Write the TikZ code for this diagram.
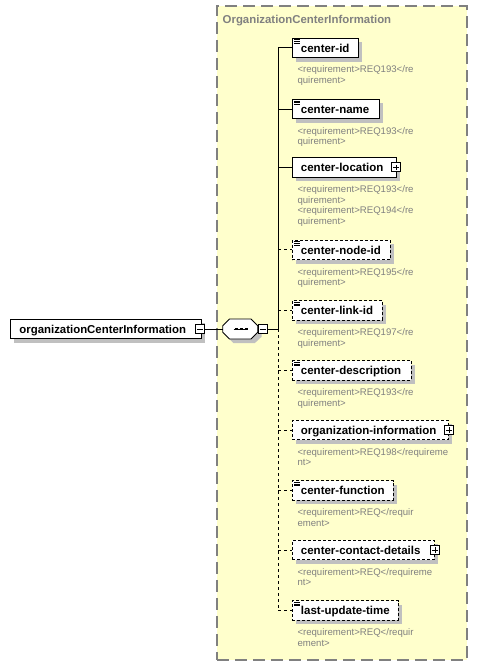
\documentclass[tikz,border=0pt]{standalone}
\usepackage{fontspec}
\setmainfont{Liberation Sans}
\definecolor{bgyel}{RGB}{255,255,204}
\definecolor{brdgray}{RGB}{128,128,128}
\definecolor{shgray}{RGB}{192,192,192}
\newcommand\nmbox[2]{\makebox[#1pt][l]{\hspace{8.5pt}#2}}
\newcommand\eqicon[1]{\foreach \dy in {2.2,3.9,5.6}{\draw[line width=0.8pt,solid] ([shift={(2,\dy)}]#1.north west) -- ++(6,0);}}
\tikzset{
 grpbox/.style={draw=brdgray, fill=bgyel, line width=1.6pt, dash pattern=on 12pt off 6pt, inner sep=0pt},
 elbox/.style={draw=black, fill=white, line width=0.9pt, minimum height=19.5pt, inner xsep=0pt, inner ysep=0pt, anchor=west, text height=9pt, text depth=0pt, font=\fontsize{11.5}{13}\selectfont\bfseries, preaction={draw=none, fill=shgray, transform canvas={shift={(4pt,-4pt)}}}},
 optbox/.style={elbox, dash pattern=on 3pt off 2pt},
 pmbox/.style={draw=black, fill=white, line width=0.8pt, minimum size=9pt, inner sep=0pt, solid},
 plusbox/.style={pmbox, path picture={\draw[line width=0.8pt] ([xshift=-2.8pt]path picture bounding box.center) -- ([xshift=2.8pt]path picture bounding box.center) ([yshift=-2.8pt]path picture bounding box.center) -- ([yshift=2.8pt]path picture bounding box.center);}},
 minusbox/.style={pmbox, path picture={\draw[line width=0.8pt] ([xshift=-2.8pt]path picture bounding box.center) -- ([xshift=2.8pt]path picture bounding box.center);}},
 req/.style={anchor=north west, inner sep=0pt, text width=175pt, align=left, font=\fontsize{9.6}{10.7}\selectfont, text=brdgray, text height=7pt, yshift=1.5pt},
 conn/.style={draw=black, line width=0.9pt},
 optconn/.style={conn, dash pattern=on 3pt off 3pt},
}
\begin{document}
\begin{tikzpicture}[x=1pt,y=-1pt]
\fill[white] (0,0) rectangle (477,665);
\useasboundingbox (0,0) rectangle (477,665);
\node[grpbox, minimum width=250pt, minimum height=654pt, anchor=north west] (grp) at (216,5) {};
\node[anchor=base west, inner sep=0pt, font=\fontsize{11.4}{13}\selectfont\bfseries, text=brdgray] (title) at (222.5,23.3) {OrganizationCenterInformation};

% elements
\node[elbox] (e1) at (292,47.8) {\nmbox{66}{center-id}};
\eqicon{e1}
\node[req] (r1) at (297.3,67) {<requirement>REQ193</re\\quirement>};

\node[elbox] (e2) at (292,109) {\nmbox{87}{center-name}};
\eqicon{e2}
\node[req] (r2) at (297.3,128.5) {<requirement>REQ193</re\\quirement>};

\node[elbox] (e3) at (292,167.3) {\nmbox{104}{center-location}};
\node[plusbox] (p3) at ([xshift=-1pt]e3.east) {};
\node[req] (r3) at (297.3,186.8) {<requirement>REQ193</re\\quirement>\\<requirement>REQ194</re\\quirement>};

\node[optbox] (e4) at (292,249.8) {\nmbox{98}{center-node-id}};
\eqicon{e4}
\node[req] (r4) at (297.3,269.3) {<requirement>REQ195</re\\quirement>};

\node[optbox] (e5) at (292,310.3) {\nmbox{90}{center-link-id}};
\eqicon{e5}
\node[req] (r5) at (297.3,329.8) {<requirement>REQ197</re\\quirement>};

\node[optbox] (e6) at (292,370.3) {\nmbox{119}{center-description}};
\eqicon{e6}
\node[req] (r6) at (297.3,389.8) {<requirement>REQ193</re\\quirement>};

\node[optbox] (e7) at (292,430) {\nmbox{156}{organization-information}};
\node[plusbox] (p7) at (e7.east) {};
\node[req] (r7) at (297.3,449.5) {<requirement>REQ198</requireme\\nt>};

\node[optbox] (e8) at (292,490.3) {\nmbox{101}{center-function}};
\eqicon{e8}
\node[req] (r8) at (297.3,509.8) {<requirement>REQ</requir\\ement>};

\node[optbox] (e9) at (292,550) {\nmbox{142}{center-contact-details}};
\node[plusbox] (p9) at (e9.east) {};
\node[req] (r9) at (297.3,569.5) {<requirement>REQ</requireme\\nt>};

\node[optbox] (e10) at (292,610.3) {\nmbox{106}{last-update-time}};
\eqicon{e10}
\node[req] (r10) at (297.3,629.8) {<requirement>REQ</requir\\ement>};

% root
\node[elbox, font=\fontsize{11.4}{13}\selectfont\bfseries] (root) at (10,329) {\makebox[191pt][l]{\hspace{9pt}organizationCenterInformation}};
\node[minusbox] (rm) at (200,329) {};

% sequence compositor
\fill[shgray] (233.5,323) -- (254.9,323) -- (261.7,330) -- (261.7,336.6) -- (254.9,343) -- (233.5,343) -- (226.7,336.6) -- (226.7,330) -- cycle;
\node[inner sep=0pt, minimum width=35pt, minimum height=20pt] (seq) at (240.2,329) {};
\filldraw[fill=white, draw=black, line width=0.9pt] (229.5,319) -- (250.9,319) -- (257.7,325.7) -- (257.7,332.3) -- (250.9,339) -- (229.5,339) -- (222.7,332.3) -- (222.7,325.7) -- cycle;
\draw[line width=0.9pt] (233.5,329) -- (247.5,329);
\foreach \cx in {236.5,241.5,246.5}{\fill (\cx-1.4,327.6) rectangle (\cx+1.4,330.4);}
\node[minusbox] (sm) at (262.7,329) {};

% connectors
\coordinate (sp) at (278,0);
\draw[conn] (rm.east) -- (seq.west);
\draw[conn] (sm.east) -- (sm.east -| sp);
\draw[conn] (sp |- e1.west) -- (sp |- sm.east);
\draw[optconn] (sp |- sm.east) -- (sp |- e10.west);
\foreach \e in {e1,e2,e3}{\draw[conn] (sp |- \e.west) -- (\e.west);}
\foreach \e in {e4,e5,e6,e7,e8,e9,e10}{\draw[optconn] (sp |- \e.west) -- (\e.west);}
\end{tikzpicture}
\end{document}
